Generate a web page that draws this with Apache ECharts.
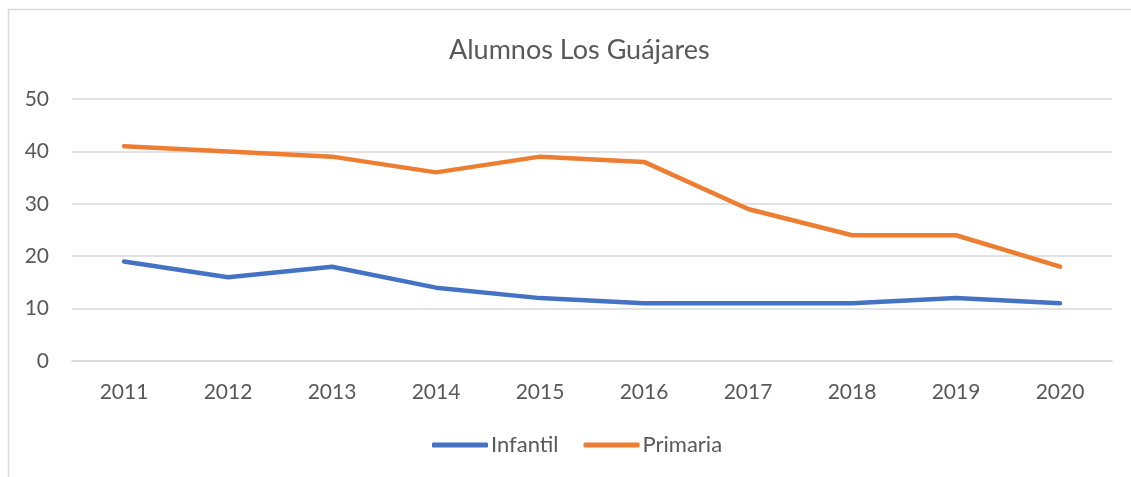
<!DOCTYPE html>
<html>
<head>
<meta charset="utf-8">
<script src="https://cdn.jsdelivr.net/npm/echarts@6/dist/echarts.min.js"></script>
<style>
  html, body { margin: 0; padding: 0; background: #fff; }
  #chart { width: 1131px; height: 477px; }
</style>
</head>
<body>
<div id="chart"></div>
<script>
const years = ['2011', '2012', '2013', '2014', '2015', '2016', '2017', '2018', '2019', '2020']
const infantil = [19, 16, 18, 14, 12, 11, 11, 11, 12, 11]
const primaria = [41, 40, 39, 36, 39, 38, 29, 24, 24, 18]
const yTicks = { min: 0, max: 50, interval: 10 }

const textColor = '#595959'
const fontName = 'Lato'

const chart = echarts.init(document.getElementById('chart'), null, { renderer: 'canvas' })
chart.setOption({
  animation: false,
  title: {
    text: 'Alumnos Los Guájares',
    left: 444,
    top: 32,
    textStyle: { color: textColor, fontFamily: fontName, fontSize: 27, fontWeight: 'normal' }
  },
  graphic: [{
    type: 'rect',
    shape: { x: 8.5, y: 9.5, width: 1300, height: 600 },
    style: { fill: 'none', stroke: '#d9d9d9', lineWidth: 1.5 },
    silent: true
  }],
  legend: {
    bottom: 16,
    left: 427,
    icon: 'roundRect',
    itemWidth: 56,
    itemHeight: 5,
    itemGap: 25,
    textStyle: { color: textColor, fontFamily: fontName, fontSize: 22, padding: [0, 0, 0, -2] },
    data: ['Infantil', 'Primaria']
  },
  grid: { left: 72, right: 19, top: 99, bottom: 116 },
  xAxis: {
    type: 'category',
    data: years,
    axisLine: { lineStyle: { color: '#d9d9d9', width: 1.5 } },
    axisTick: { show: false },
    axisLabel: { color: textColor, fontFamily: fontName, fontSize: 21, margin: 21 }
  },
  yAxis: {
    type: 'value',
    min: yTicks.min,
    max: yTicks.max,
    interval: yTicks.interval,
    axisLine: { show: false },
    axisTick: { show: false },
    splitLine: { lineStyle: { color: '#d9d9d9', width: 1.5 } },
    axisLabel: { color: textColor, fontFamily: fontName, fontSize: 21, margin: 23 }
  },
  series: [
    {
      name: 'Infantil',
      type: 'line',
      data: infantil,
      symbol: 'none',
      itemStyle: { color: '#4472C4' },
      lineStyle: { color: '#4472C4', width: 4.5, cap: 'round', join: 'round' }
    },
    {
      name: 'Primaria',
      type: 'line',
      data: primaria,
      symbol: 'none',
      itemStyle: { color: '#ED7D31' },
      lineStyle: { color: '#ED7D31', width: 4.5, cap: 'round', join: 'round' }
    }
  ]
})
</script>
</body>
</html>
